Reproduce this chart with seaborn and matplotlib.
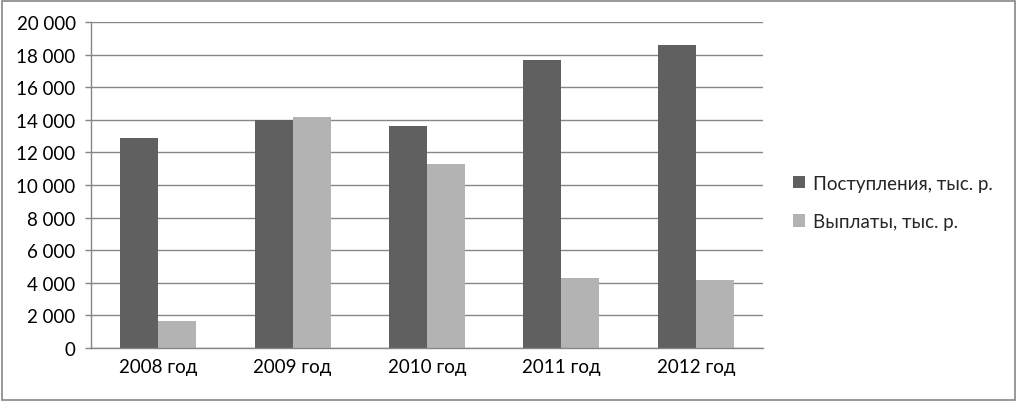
#!/usr/bin/env python
import numpy as np
import pandas as pd
import seaborn as sns
import matplotlib.pyplot as plt
from matplotlib.patches import Rectangle
from matplotlib.ticker import FuncFormatter

years = ["2008 год", "2009 год", "2010 год", "2011 год", "2012 год"]
income = [12900, 14000, 13620, 17670, 18610]
payments = [1680, 14170, 11270, 4320, 4190]
series = ["Поступления, тыс. р.", "Выплаты, тыс. р."]
colors = ["#606060", "#b3b3b3"]

data = pd.DataFrame({
    "year": years * 2,
    "value": income + payments,
    "series": [series[0]] * len(years) + [series[1]] * len(years),
})

sns.set_style("white")
plt.rcParams['font.family'] = ['Lato', 'DejaVu Sans']

fig = plt.figure(figsize=(10.18, 4.02), dpi=100)
ax = fig.add_axes([0.0894, 0.1318, 0.6601, 0.811])

sns.barplot(data=data, x="year", y="value", hue="series", hue_order=series,
            palette=colors, width=0.566, saturation=1, linewidth=0, ax=ax, legend=True)

ax.set_ylim(0, 20000)
ax.set_yticks(np.arange(0, 20001, 2000))
ax.yaxis.set_major_formatter(FuncFormatter(lambda v, p: f"{int(v):,}".replace(",", " ")))
ax.set_xlim(-0.5, len(years) - 0.5)
ax.set_xlabel("")
ax.set_ylabel("")
ax.grid(axis="y", color="#868686", linewidth=1)
ax.set_axisbelow(True)

for s in ["top", "right"]:
    ax.spines[s].set_visible(False)
for s in ["left", "bottom"]:
    ax.spines[s].set_color("#868686")
    ax.spines[s].set_linewidth(1)

# category-boundary ticks on x axis
ax.set_xticks(np.arange(len(years)))
ax.set_xticks(np.arange(-0.5, len(years), 1), minor=True)
ax.tick_params(axis="x", which="major", length=0, labelsize=13.5, pad=7, colors="black")
ax.tick_params(axis="x", which="minor", length=5, color="#868686", width=1)
ax.tick_params(axis="y", which="major", length=4, color="#868686", width=1,
               labelsize=13.5, pad=7, left=True, labelcolor="black")

handles, labels = ax.get_legend_handles_labels()
ax.legend_.remove()
fig.legend(handles, labels, loc="center left", bbox_to_anchor=(0.762, 0.494),
           frameon=False, fontsize=13.5, handlelength=0.65, handleheight=0.65,
           handletextpad=0.45, labelspacing=1.15)

fig.patches.append(Rectangle((0.002, 0.003), 0.995, 0.993, transform=fig.transFigure,
                             fill=False, edgecolor="#868686", linewidth=1.2))

plt.savefig("out.png", dpi=100)
